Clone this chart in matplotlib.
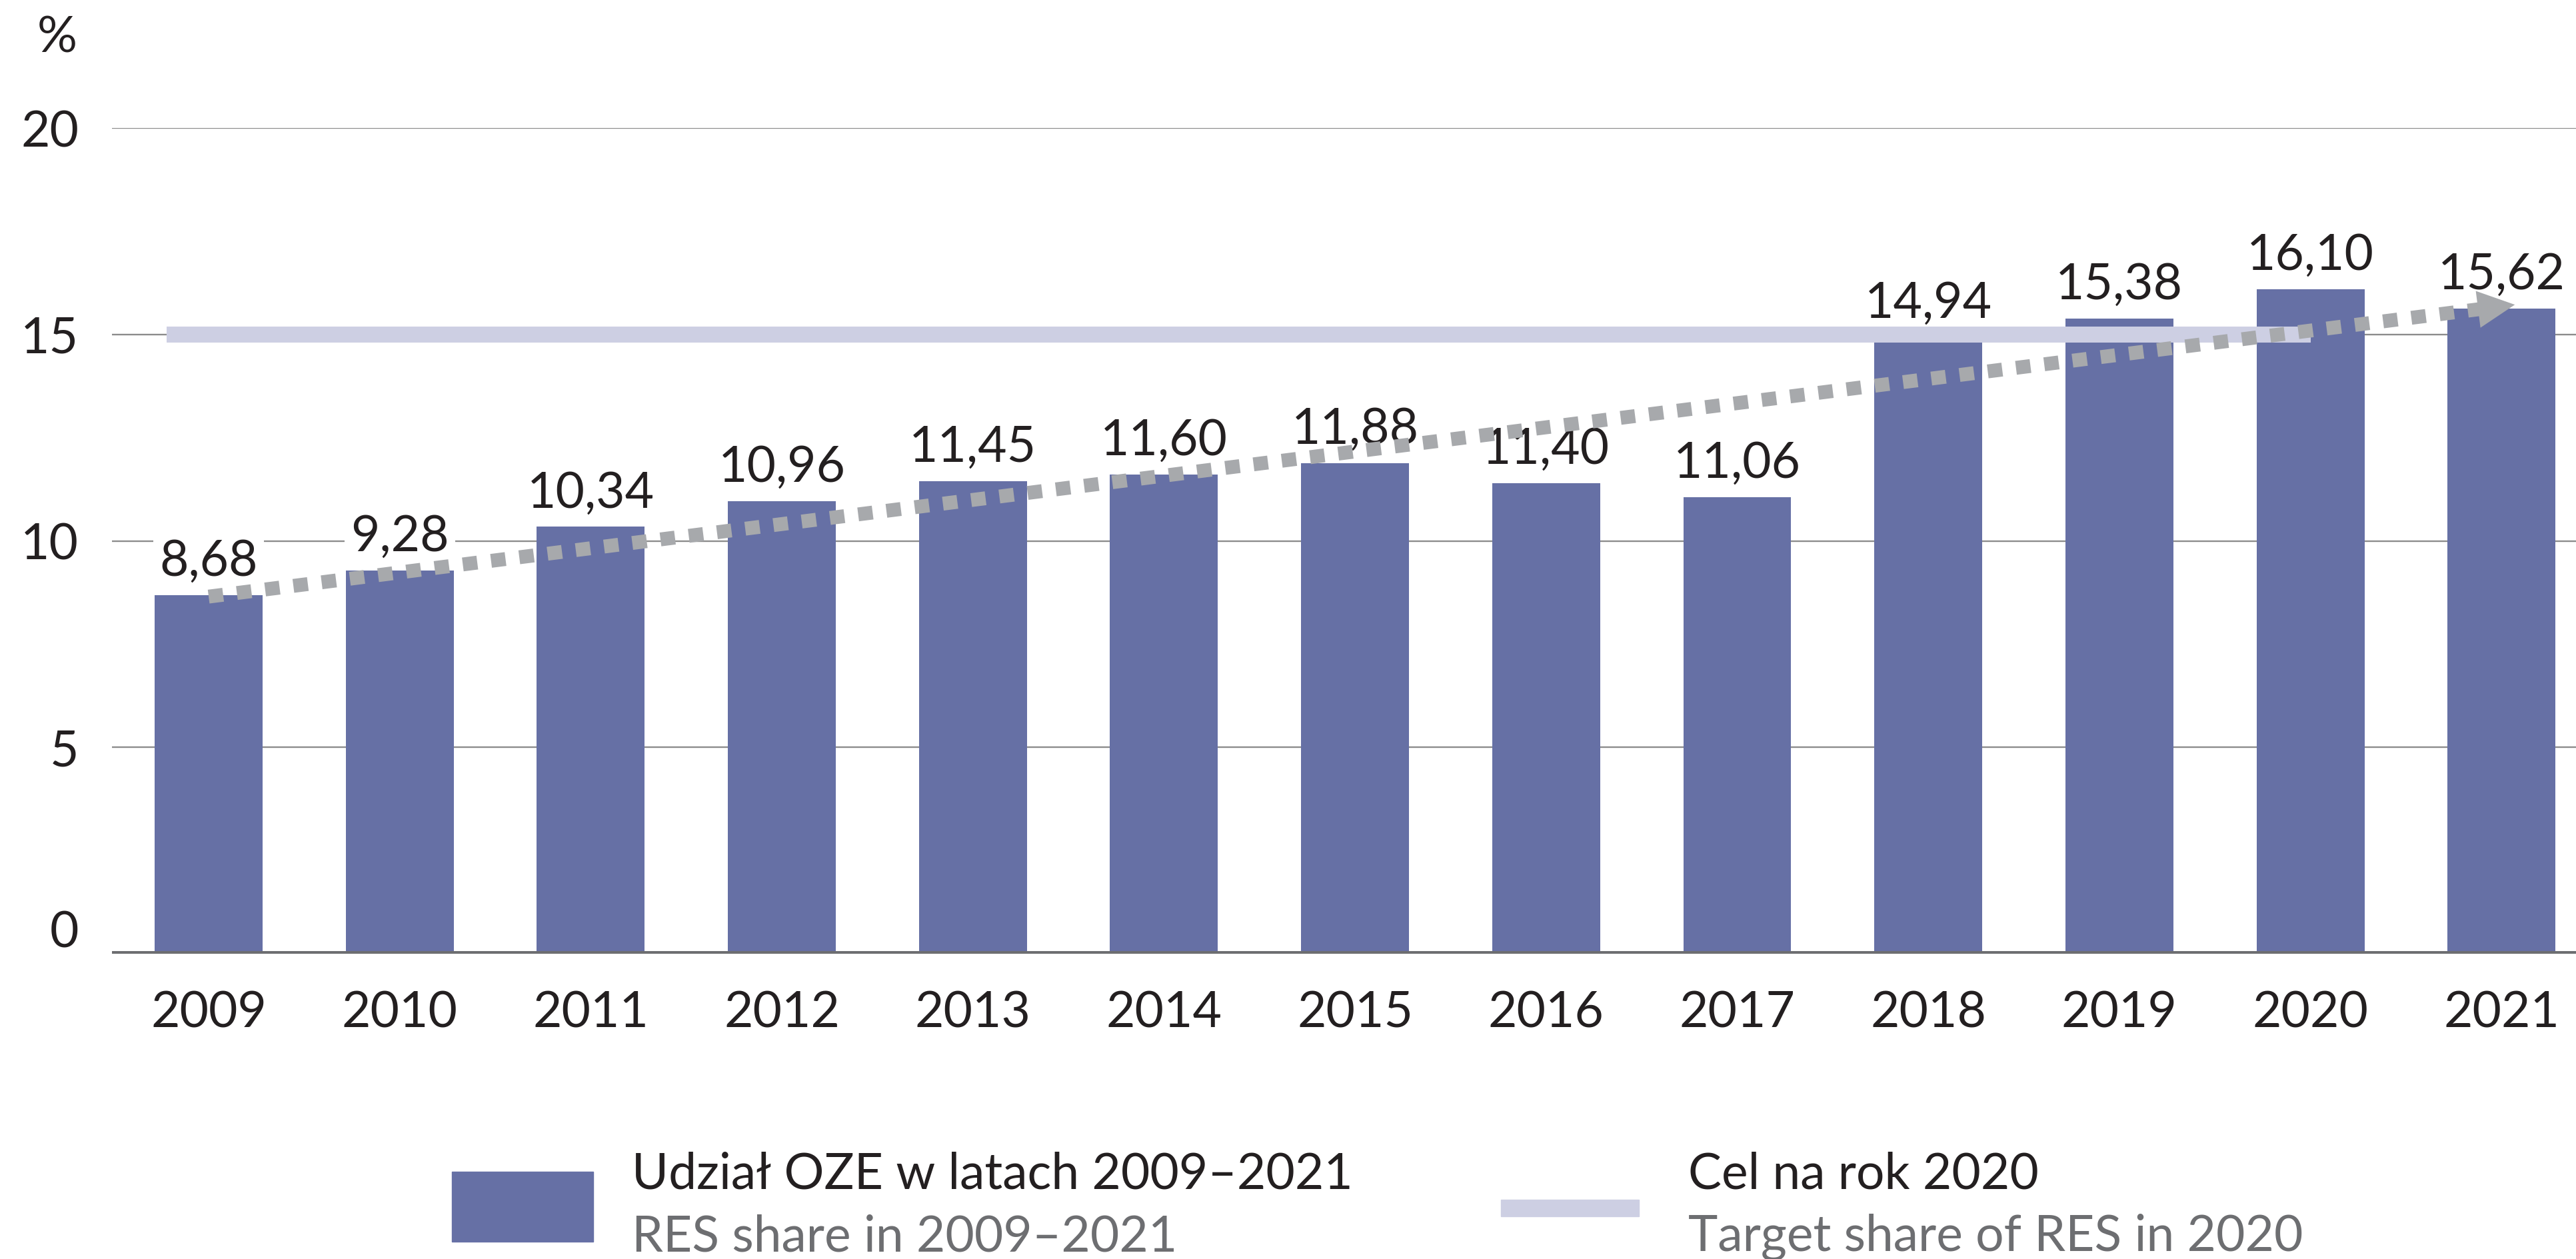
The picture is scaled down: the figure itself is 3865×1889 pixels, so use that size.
import matplotlib.pyplot as plt
from matplotlib.patches import Rectangle
from matplotlib.transforms import ScaledTranslation

plt.rcParams['font.family'] = ['Lato', 'DejaVu Sans']

# data
years = ['2009', '2010', '2011', '2012', '2013', '2014', '2015',
         '2016', '2017', '2018', '2019', '2020', '2021']
res_share = [8.68, 9.28, 10.34, 10.96, 11.45, 11.60, 11.88,
             11.40, 11.06, 14.94, 15.38, 16.10, 15.62]
target_value = 15.0
target_year = '2020'
trend_start = 8.65
trend_end = 15.72
yticks = [0, 5, 10, 15, 20]

bar_color = '#6670a5'
target_color = '#cdcfe3'
trend_color = '#a7a9ac'
text_color = '#231f20'
sub_color = '#6d6e71'

fig = plt.figure(figsize=(38.65, 18.89), dpi=100)
ax = fig.add_axes([0.04347, 0.24245, 0.95653, 0.6559])

x = list(range(len(years)))
ax.bar(x, res_share, width=0.565, color=bar_color, zorder=2)

# value labels with white background (they cut the grid lines)
for xi, v in zip(x, res_share):
    ax.annotate(f'{v:.2f}'.replace('.', ','), (xi, v), xytext=(0, 21),
                textcoords='offset points', ha='center', va='baseline',
                fontsize=54, color=text_color, zorder=3,
                bbox=dict(boxstyle='square,pad=0.12', fc='white', ec='none'))

# 2020 target line
t_end = years.index(target_year)
ax.plot([-0.22, t_end], [target_value, target_value], color=target_color,
        lw=17.3, solid_capstyle='butt', zorder=4)

# dotted trend arrow
tip_x = len(years) - 1 + 0.07
ax.plot([0, tip_x - 0.18],
        [trend_start, trend_start + (trend_end - trend_start) * (tip_x - 0.18) / tip_x],
        color=trend_color, lw=15, dashes=(1.05, 1.0), dash_capstyle='butt', zorder=5)
ax.annotate('', xy=(tip_x, trend_end),
            xytext=(tip_x - 0.35, trend_end - (trend_end - trend_start) * 0.35 / tip_x),
            arrowprops=dict(arrowstyle='-|>,head_length=0.4,head_width=0.2',
                            mutation_scale=100, lw=0, color=trend_color,
                            shrinkA=0, shrinkB=0), zorder=6)

ax.set_xlim(-0.506, 12.39)
ax.set_ylim(0, 20)
ax.set_xticks(x)
ax.set_xticklabels(years)
ax.set_yticks(yticks)
ax.tick_params(axis='both', length=0, labelsize=54, labelcolor=text_color)
ax.tick_params(axis='x', pad=39)
ax.tick_params(axis='y', pad=36)
for s in ax.spines.values():
    s.set_visible(False)
ax.yaxis.grid(True, color='#8c8c8c', lw=1.7)
ax.set_axisbelow(True)
ax.axhline(0, color=sub_color, lw=5.8, zorder=3)

# the "0" label sits a bit above the baseline
lab0 = ax.get_yticklabels()[0]
lab0.set_transform(lab0.get_transform() + ScaledTranslation(0, 0.38, fig.dpi_scale_trans))

fig.text(0.0300, 0.9582, '%', ha='right', va='baseline', fontsize=54, color=text_color)

# legend
fig.add_artist(Rectangle((0.1754, 0.01376), 0.0549, 0.0556, color=bar_color,
                         transform=fig.transFigure))
fig.text(0.2453, 0.0561, 'Udział OZE w latach 2009–2021', fontsize=54,
         color=text_color, va='baseline')
fig.text(0.2453, 0.00635, 'RES share in 2009–2021', fontsize=54,
         color=sub_color, va='baseline')
fig.add_artist(Rectangle((0.5827, 0.03388), 0.0536, 0.01323, color=target_color,
                         transform=fig.transFigure))
fig.text(0.6554, 0.0561, 'Cel na rok 2020', fontsize=54,
         color=text_color, va='baseline')
fig.text(0.6554, 0.00635, 'Target share of RES in 2020', fontsize=54,
         color=sub_color, va='baseline')

fig.savefig('out.png', dpi=100)
